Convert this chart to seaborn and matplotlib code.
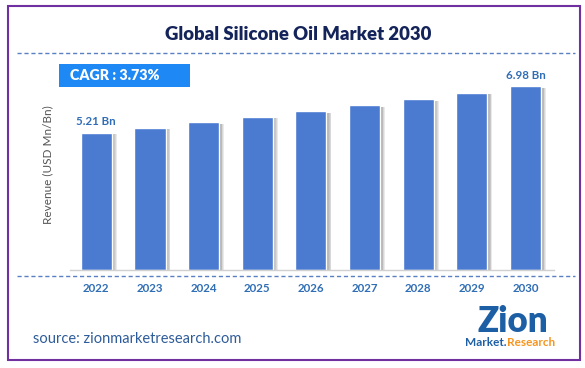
import matplotlib
matplotlib.use("Agg")
import matplotlib.pyplot as plt
from matplotlib.patches import Rectangle
from matplotlib.lines import Line2D
import seaborn as sns
import pandas as pd

# data
years = ["2022", "2023", "2024", "2025", "2026", "2027", "2028", "2029", "2030"]
revenue = [5.21, 5.40, 5.61, 5.82, 6.03, 6.26, 6.49, 6.73, 6.98]
first_label = "5.21 Bn"
last_label = "6.98 Bn"
cagr_text = "CAGR : 3.73%"
title = "Global Silicone Oil Market 2030"
source = "source: zionmarketresearch.com"

W, H = 585, 368
df = pd.DataFrame({"year": years, "revenue": revenue})

sns.set_style("white")
plt.rcParams["font.family"] = ["Lato", "DejaVu Sans"]

fig = plt.figure(figsize=(W / 100, H / 100), dpi=100)
fig.patch.set_facecolor("white")

# axes placed in pixel units (left 70, right 554, bottom 270, top 60)
ax = fig.add_axes([70 / W, (H - 270) / H, (554 - 70) / W, (270 - 60) / H])

# soft shadow on the right of each bar
for k in range(1, 7):
    ax.bar([i + 0.015 * k for i in range(len(years))], [v - 0.06 for v in revenue],
           width=0.58, color="#606060", alpha=0.13, linewidth=0, zorder=1)

sns.barplot(data=df, x="year", y="revenue", color="#4a7bd1", saturation=1,
            width=0.58, ax=ax, zorder=2)

ax.set_xlim(-0.49, 8.53)
ax.set_ylim(0, 7.98)
ax.set_xlabel("")
ax.set_ylabel("Revenue (USD Mn/Bn)", fontsize=8.5, color="#555555", labelpad=12)
ax.set_yticks([])
for s in ["top", "right", "left"]:
    ax.spines[s].set_visible(False)
ax.spines["bottom"].set_color("#d0d0d0")
ax.spines["bottom"].set_linewidth(1)
ax.tick_params(axis="x", length=0, pad=9, labelsize=8.3, labelcolor="#2f6db5")
for t in ax.get_xticklabels():
    t.set_fontweight("bold")

ax.text(0, revenue[0] + 0.22, first_label, ha="center", va="bottom",
        fontsize=8.3, fontweight="bold", color="#2f6db5")
ax.text(len(years) - 1, revenue[-1] + 0.22, last_label, ha="center", va="bottom",
        fontsize=8.3, fontweight="bold", color="#2f6db5")

# title and decorations in figure pixels
def fx(x):
    return x / W

def fy(y):
    return 1 - y / H

fig.text(fx(298), fy(34), title, ha="center", va="center", fontsize=13.3,
         fontweight="heavy", color="#14245a")
fig.add_artist(Line2D([fx(17), fx(575)], [fy(53), fy(53)], color="#5a80c4",
                      linestyle=(0, (3, 2)), linewidth=1))
fig.add_artist(Line2D([fx(17), fx(575)], [fy(276), fy(276)], color="#5a80c4",
                      linestyle=(0, (3, 2)), linewidth=1))

fig.add_artist(Rectangle((fx(59), fy(87)), fx(190 - 59), (87 - 64) / H,
                         facecolor="#1e88f5", edgecolor="none"))
fig.text(fx(70), fy(76), cagr_text, ha="left", va="center", fontsize=10.3,
         fontweight="heavy", color="white")

fig.text(fx(33), fy(339), source, ha="left", va="center", fontsize=10.5,
         color="#2e5c9a")

# logo
fig.text(fx(513), fy(321), "Zion", ha="center", va="center", fontsize=25,
         fontweight="heavy", color="#1d5fa5")
fig.text(fx(465), fy(343), "Market.", ha="left", va="center", fontsize=8.5,
         fontweight="bold", color="#1d5fa5")
fig.text(fx(507), fy(343), "Research", ha="left", va="center", fontsize=8.5,
         fontweight="bold", color="#f7941d")

# outer border
fig.add_artist(Rectangle((fx(8), fy(360)), fx(580 - 8), (360 - 6) / H,
                         facecolor="none", edgecolor="#7030a0", linewidth=1.5))

fig.savefig("out.png", dpi=100)
